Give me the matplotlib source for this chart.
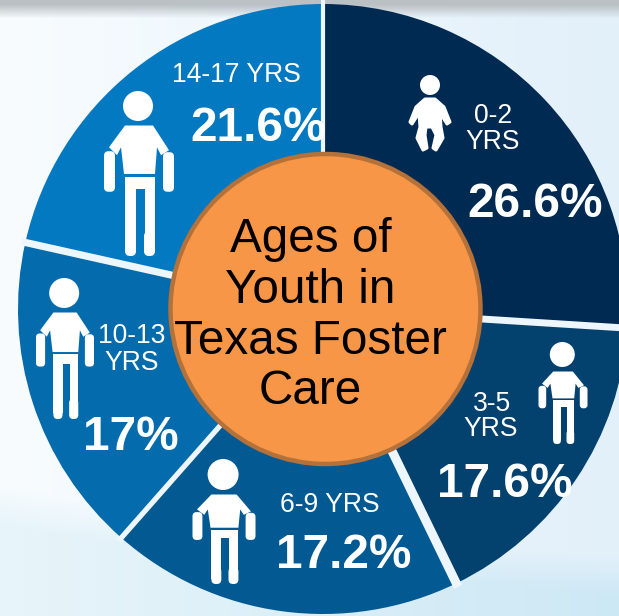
import numpy as np
import matplotlib
matplotlib.use("Agg")
import matplotlib.pyplot as plt
from matplotlib.patches import Circle, FancyBboxPatch, Polygon

# Data
age_groups = ["0-2 YRS", "3-5 YRS", "6-9 YRS", "10-13 YRS", "14-17 YRS"]
percent_labels = ["26.6%", "17.6%", "17.2%", "17%", "21.6%"]
# Slice sizes as actually drawn in the picture (differ slightly from the printed labels)
drawn_shares = [26.0, 16.8, 18.7, 17.0, 21.5]
slice_colors = ["#012A52", "#03416F", "#035A92", "#046BAC", "#0379C2"]
title_lines = ["Ages of", "Youth in", "Texas Foster", "Care"]

W, H = 619, 616
CX, CY, R = 323, 309, 305
GAP = "#EEF6FD"

plt.rcParams["font.family"] = ["Liberation Sans", "DejaVu Sans"]
fig = plt.figure(figsize=(W / 100, H / 100), dpi=100)
ax = fig.add_axes([0, 0, 1, 1])

# Slices (y axis is inverted below, so counterclock draws visually clockwise)
wedges, _ = ax.pie(drawn_shares, colors=slice_colors, center=(CX, CY), radius=R,
                   startangle=-90, counterclock=True,
                   wedgeprops=dict(linewidth=0, zorder=2))
ax.set_xlim(0, W)
ax.set_ylim(H, 0)
ax.set_aspect("auto")
ax.axis("off")

# Background wash
xx, yy = np.meshgrid(np.arange(W), np.arange(H))
left = np.array([248, 252, 255.0])
right = np.array([226, 240, 250.0])
t = (xx / W)[..., None]
bg = left * (1 - t) + right * t
swoosh_y = 480 + 75 * (xx / W) ** 0.7
mask = np.clip((yy - swoosh_y) / 40, 0, 1)[..., None]
low = np.array([232, 245, 250.0]) * (1 - t) + np.array([205, 232, 245.0]) * t
bg = bg * (1 - mask) + low * mask
top_mix = np.clip((yy - 4) / 14, 0, 1)[..., None]
bg = np.array([186, 192, 196.0]) * (1 - top_mix) + bg * top_mix
ax.imshow(bg / 255, extent=(0, W, H, 0), aspect="auto", zorder=0)
ax.set_xlim(0, W)
ax.set_ylim(H, 0)

# White gaps between slices
for share_end, lw in zip(np.cumsum([0] + drawn_shares[:-1]), [3.0, 5.0, 6.5, 3.8, 5.2]):
    a = np.deg2rad(share_end * 3.6 - 90)
    ax.plot([CX, CX + (R + 4) * np.cos(a)], [CY, CY + (R + 4) * np.sin(a)],
            color=GAP, lw=lw, solid_capstyle="butt", zorder=3)

# Centre disc
ax.add_patch(Circle((325.5, 309), 155, facecolor="#F79646", edgecolor="#B4713A",
                    linewidth=3.2, zorder=4))


def person(cx, top, height, span, head_d):
    sx = span / 70
    torso_top = head_d + 4.5
    ys = (height - torso_top) / 132

    def Y(b):
        return top + torso_top + (b - 33) * ys

    def X(a):
        return cx + a * sx

    def rounded(x0, b0, x1, b1, r):
        ax.add_patch(FancyBboxPatch((X(x0), Y(b0)), X(x1) - X(x0), Y(b1) - Y(b0),
                                    boxstyle=f"round,pad=0,rounding_size={r * sx}",
                                    fc="white", ec="none", zorder=5))

    ax.add_patch(Circle((cx - 1 * sx, top + head_d / 2), head_d / 2, fc="white", ec="none", zorder=5))
    torso = [(-14, 33), (14, 33), (30, 58), (22, 63), (18, 55), (16, 82), (-15, 82),
             (-18, 55), (-22, 63), (-30, 55)]
    ax.add_patch(Polygon([(X(a), Y(b)) for a, b in torso], fc="white", ec="none", zorder=5))
    rounded(-35, 59, -24, 100, 4.5)
    rounded(24, 60, 35, 100, 4.5)
    legs = [(-14, 85), (16, 85), (16, 158), (6, 158), (6, 97), (-3, 97), (-3, 158), (-14, 158)]
    ax.add_patch(Polygon([(X(a), Y(b)) for a, b in legs], fc="white", ec="none", zorder=5))
    rounded(-14, 140, -3, 165, 5)
    rounded(5, 140, 16, 165, 5)


def baby():
    ax.add_patch(Circle((430, 85), 10, fc="white", ec="none", zorder=5))
    body = [(425, 99), (435, 99), (444, 107), (450, 122), (447, 124), (440, 113), (441, 127),
            (443, 138), (436, 150), (433, 148), (436, 135), (432, 127), (426, 127), (425, 135),
            (427, 148), (423, 150), (417, 138), (420, 127), (419, 113), (412, 124), (410, 122), (416, 107)]
    ax.add_patch(Polygon(body, fc="white", ec="white", lw=2.2, joinstyle="round", zorder=5))


baby()
person(563, 342, 102, 49, 25)
person(224, 459, 125, 63, 31)
person(65, 278, 141, 58, 30)
person(139, 91, 165, 70, 30)

# Age labels
small = dict(color="white", fontsize=19.1, ha="center", va="baseline", zorder=6)
a0, y0 = age_groups[0].split()
ax.text(493, 123, a0, **small)
ax.text(493, 149, y0, **small)
a1, y1 = age_groups[1].split()
ax.text(492, 411, a1, **small)
ax.text(491, 436, y1, **small)
ax.text(330, 512, age_groups[2], **small)
a3, y3 = age_groups[3].split()
ax.text(132, 343, a3, **small)
ax.text(132, 370, y3, **small)
ax.text(236.5, 82, age_groups[4], **small)

# Percent labels
big = dict(color="white", fontsize=34.4, fontweight="bold", ha="center", va="baseline", zorder=6)
for (x, y), s in zip([(535.5, 217), (505, 497), (344, 568), (130.5, 450), (258.5, 141)], percent_labels):
    ax.text(x, y, s, **big)

# Title in centre disc
for y, line in zip([252, 303, 354, 404], title_lines):
    ax.text(310.5, y, line, color="black", fontsize=34.3, ha="center", va="baseline", zorder=6)

fig.savefig("out.png", dpi=100)
